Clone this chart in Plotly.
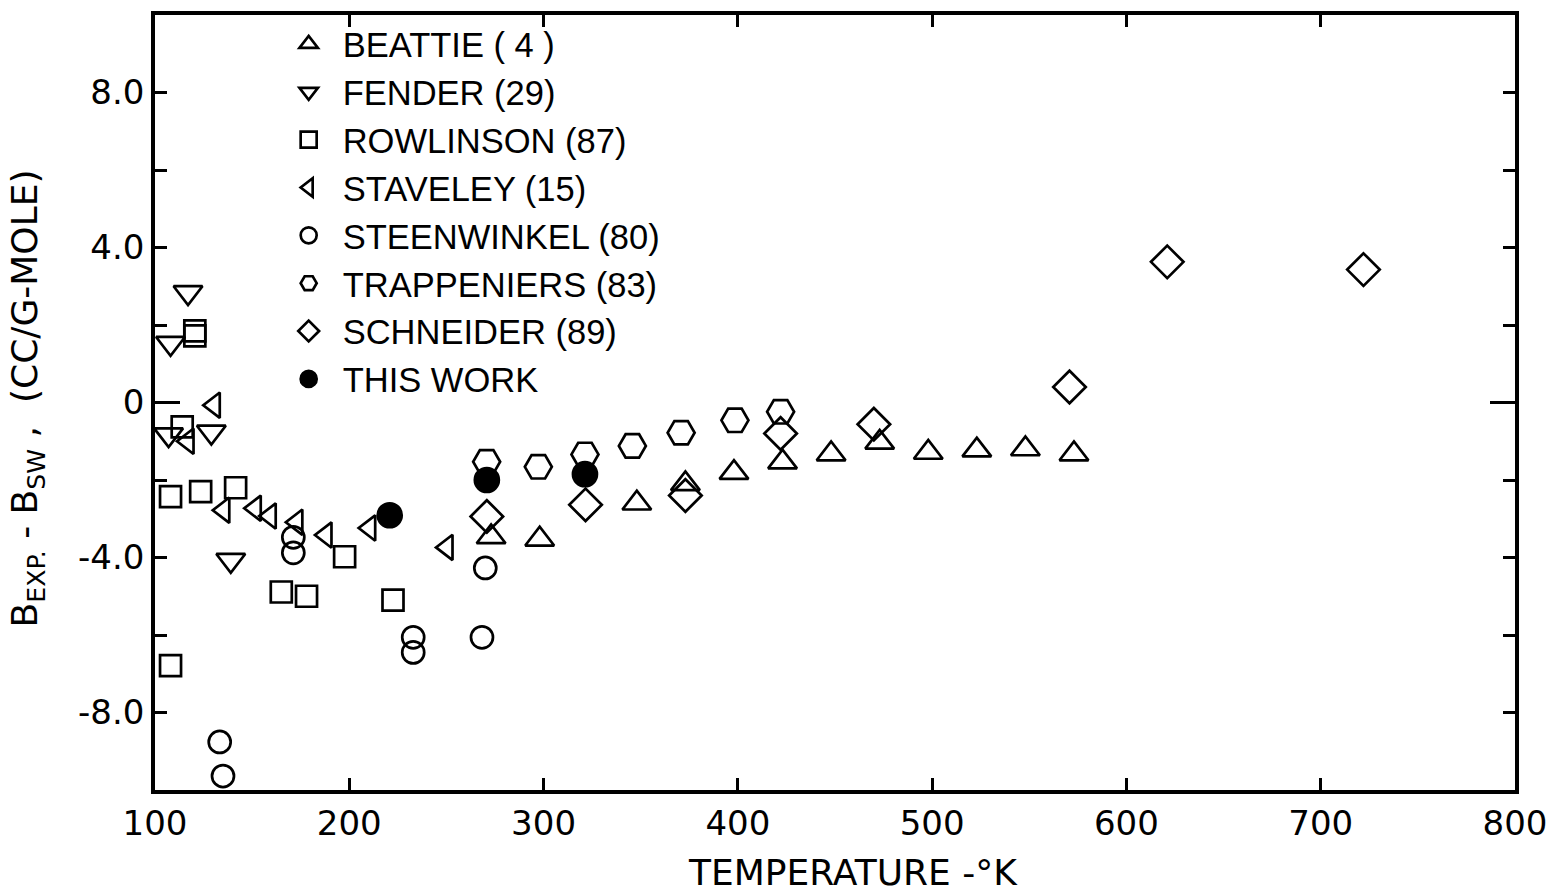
import plotly.graph_objects as go

# Second virial coefficient deviations, B_exp - B_SW (cc/g-mole), vs temperature (K)
beattie_T = [273, 298, 348, 373, 398, 423, 448, 473, 498, 523, 548, 573]
beattie_B = [-3.47, -3.53, -2.6, -2.1, -1.81, -1.54, -1.33, -1.03, -1.29, -1.23, -1.2, -1.33]

fender_T = [117, 108, 107, 129, 139]
fender_B = [2.84, 1.53, -0.83, -0.76, -4.07]

rowlinson_T = [120.5, 120.5, 114, 108, 123.5, 141.5, 165, 178, 197.6, 222.5, 108]
rowlinson_B = [1.85, 1.72, -0.63, -2.43, -2.3, -2.2, -4.89, -5.0, -3.98, -5.1, -6.79]

staveley_T = [130.5, 117, 135.4, 151.6, 159.3, 173, 188, 210.5, 250.3]
staveley_B = [-0.07, -1.0, -2.78, -2.73, -2.93, -3.09, -3.42, -3.24, -3.74]

steenwinkel_T = [171.2, 171.2, 133.3, 135, 232.9, 232.9, 270, 268.3]
steenwinkel_B = [-3.48, -3.88, -8.76, -9.64, -6.06, -6.45, -4.27, -6.06]

trappeniers_T = [270.7, 297.3, 321.3, 345.7, 370.8, 398.5, 422]
trappeniers_B = [-1.53, -1.66, -1.34, -1.12, -0.78, -0.46, -0.24]

schneider_T = [270.8, 321.6, 373, 422, 470, 570.7, 621, 722]
schneider_B = [-2.94, -2.64, -2.4, -0.8, -0.56, 0.40, 3.63, 3.43]

this_work_T = [220.8, 270.8, 321.3]
this_work_B = [-2.91, -2.0, -1.85]

series = [
    ("BEATTIE ( 4 )", beattie_T, beattie_B, "triangle-up-open", 25),
    ("FENDER (29)", fender_T, fender_B, "triangle-down-open", 25),
    ("ROWLINSON (87)", rowlinson_T, rowlinson_B, "square-open", 21),
    ("STAVELEY (15)", staveley_T, staveley_B, "triangle-left-open", 22),
    ("STEENWINKEL (80)", steenwinkel_T, steenwinkel_B, "circle-open", 22),
    ("TRAPPENIERS (83)", trappeniers_T, trappeniers_B, "hexagon2-open", 27),
    ("SCHNEIDER (89)", schneider_T, schneider_B, "diamond-open", 25),
    ("THIS WORK", this_work_T, this_work_B, "circle", 24),
]

fig = go.Figure()
for name, xs, ys, sym, size in series:
    fig.add_trace(go.Scatter(
        x=xs, y=ys, mode="markers", name=name,
        marker=dict(symbol=sym, size=size, color="black",
                    line=dict(color="black", width=2.7)),
    ))

# overlay axis carrying only the longer tick at zero
fig.add_trace(go.Scatter(x=[None], y=[None], yaxis="y2", showlegend=False, hoverinfo="skip"))

tick_font = dict(family="DejaVu Sans, Liberation Sans, sans-serif", size=34, color="black")

fig.update_layout(
    width=1558, height=893,
    margin=dict(l=155, r=37, t=11, b=103),
    paper_bgcolor="white", plot_bgcolor="white",
    showlegend=True,
    legend=dict(
        x=0.088, y=1.0, xanchor="left", yanchor="top",
        font=dict(family="Liberation Sans, Arial, sans-serif", size=34.5, color="black"),
        bgcolor="rgba(0,0,0,0)", borderwidth=0, tracegroupgap=0,
        itemwidth=58,
    ),
    xaxis=dict(
        range=[100, 800], tickvals=[100, 200, 300, 400, 500, 600, 700, 800],
        ticktext=["100", "200", "300", "400", "500", "600", "700", "800"],
        ticks="inside", ticklen=12, tickwidth=2.5, tickcolor="black",
        showline=True, linewidth=3.5, linecolor="black", mirror="ticks",
        showgrid=False, zeroline=False, tickfont=tick_font,
    ),
    yaxis=dict(
        range=[-10, 10], tickvals=[-8, -4, 0, 4, 8],
        ticktext=["-8.0", "-4.0", "0", "4.0", "8.0"],
        ticks="inside", ticklen=12, tickwidth=2.5, tickcolor="black",
        minor=dict(dtick=2, tick0=0, ticks="inside", ticklen=12, tickwidth=2.5, tickcolor="black"),
        showline=True, linewidth=3.5, linecolor="black", mirror="ticks",
        showgrid=False, zeroline=False, tickfont=tick_font,
    ),
    yaxis2=dict(
        overlaying="y", matches="y", side="left",
        tickvals=[0], ticks="inside", ticklen=25, tickwidth=2.5, tickcolor="black",
        showticklabels=False, showline=False, mirror="ticks", showgrid=False, zeroline=False,
    ),
    annotations=[
        dict(text="TEMPERATURE -°K", xref="paper", yref="paper",
             x=0.513, y=-0.1065, xanchor="center", yanchor="middle", showarrow=False,
             font=dict(family="DejaVu Sans, sans-serif", size=36, color="black")),
        dict(text="B<sub>EXP.</sub> - B<sub>SW</sub> ,  (CC/G-MOLE)", xref="paper", yref="paper",
             x=-0.0935, y=0.505, xanchor="center", yanchor="middle", textangle=-90, showarrow=False,
             font=dict(family="DejaVu Sans, sans-serif", size=36, color="black")),
    ],
)

fig.write_html("out.html")
